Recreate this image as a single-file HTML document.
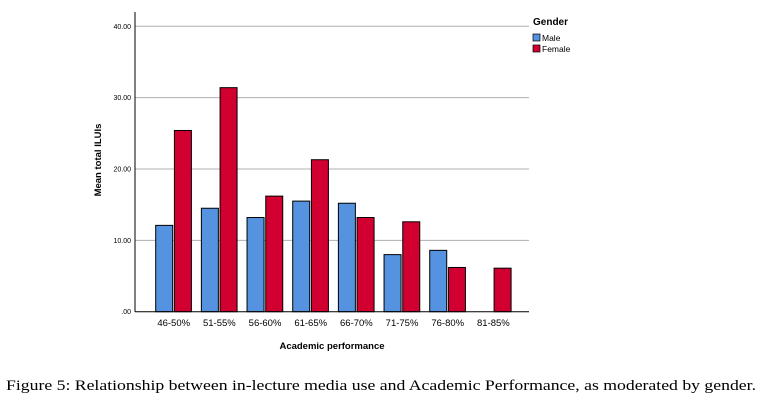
<!DOCTYPE html>
<html><head><meta charset="utf-8"><style>
body{margin:0;background:#fff;width:761px;height:403px;overflow:hidden}
svg{display:block}
text{font-family:"Liberation Sans",Arial,sans-serif;fill:#000}
</style></head><body>
<svg id="chart" width="761" height="403" xmlns="http://www.w3.org/2000/svg"></svg>
<script>
const categories=["46-50%","51-55%","56-60%","61-65%","66-70%","71-75%","76-80%","81-85%"];
const maleValues=[12.1,14.5,13.2,15.5,15.2,8.0,8.6,null];
const femaleValues=[25.4,31.4,16.2,21.3,13.2,12.6,6.2,6.1];
const yTicks=[0,10,20,30,40];
const yTickLabels=[".00","10.00","20.00","30.00","40.00"];

const NS="http://www.w3.org/2000/svg";
const svg=document.getElementById('chart');
const X0=135,X1=529,Y0=311.7,Y40=26.3;
const y=v=>Y0-(v/40)*(Y0-Y40);
const xc=i=>173.7+i*45.67;
function el(t,a,p){const e=document.createElementNS(NS,t);for(const k in a)e.setAttribute(k,a[k]);(p||svg).appendChild(e);return e;}

yTicks.forEach((t,i)=>{
  if(t>0){const g=el('line',{x1:X0,x2:X1,y1:y(t),y2:y(t),stroke:'#b0b0b0','stroke-width':1});
  
  }
  const l=el('text',{x:131,y:y(t)+2.5,'text-anchor':'end','font-size':7});
  l.textContent=yTickLabels[i];
  
  
});
categories.forEach((c,i)=>{
  if(maleValues[i]!=null){
    const r=el('rect',{x:xc(i)-18,y:y(maleValues[i]),width:17,height:Y0-y(maleValues[i]),fill:'#5592e0',stroke:'#000','stroke-width':1});
    
    
  }
  const f=el('rect',{x:xc(i)+0.7,y:y(femaleValues[i]),width:17,height:Y0-y(femaleValues[i]),fill:'#d20030',stroke:'#000','stroke-width':1});
  
  
  const t=el('text',{x:xc(i),y:326,'text-anchor':'middle','font-size':9.5});
  t.textContent=c;
  
  
});
const ax=el('line',{x1:X0,x2:X0,y1:12,y2:Y0,stroke:'#000','stroke-width':1});


const bx=el('line',{x1:X0,x2:X1,y1:Y0,y2:Y0,stroke:'#000','stroke-width':1});


</script>
<svg style="position:absolute;left:0;top:0" width="761" height="403" xmlns="http://www.w3.org/2000/svg">
<text transform="translate(101,160) rotate(-90)" text-anchor="middle" font-size="9.5" font-weight="bold">Mean total ILUIs</text>
<text x="332" y="349" text-anchor="middle" font-size="9.5" font-weight="bold">Academic performance</text>
<text x="533" y="25" font-size="10" font-weight="bold">Gender</text>
<rect x="533" y="34" width="7" height="7" fill="#5592e0" stroke="#000" stroke-width="0.7"/>
<text x="542" y="41" font-size="8.5">Male</text>
<rect x="533" y="45" width="7" height="7" fill="#d20030" stroke="#000" stroke-width="0.7"/>
<text x="542" y="52" font-size="8.5">Female</text>
<text x="6" y="390" font-size="15" style="font-family:'Liberation Serif',serif" textLength="750" lengthAdjust="spacingAndGlyphs">Figure 5: Relationship between in-lecture media use and Academic Performance, as moderated by gender.</text>
</svg>
</body></html>
